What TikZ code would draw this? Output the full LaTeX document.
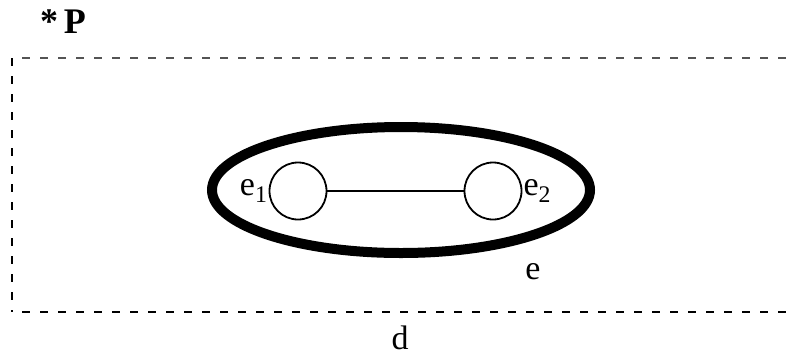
\documentclass[tikz,border=0pt]{standalone}
\usepackage{fontspec}
\setmainfont{Liberation Serif}
\usetikzlibrary{positioning,shapes.geometric}
\definecolor{dashgrey}{rgb}{0.33,0.33,0.33}
\tikzset{
  marco/.style={
    dash pattern=on 8pt off 10pt,
    line width=2pt
  },
  bolsa/.style={
    ellipse,
    draw,
    line width=10pt,
    minimum width=378pt,
    minimum height=126pt
  },
  vertice/.style={
    circle,
    draw,
    line width=1.8pt,
    minimum size=57pt,
    inner sep=0pt
  },
  etiqueta/.style={
    inner sep=1pt,
    font=\fontsize{34}{38}\selectfont
  }
}
\begin{document}
\begin{tikzpicture}[x=1pt,y=-1pt,node distance=4pt]
\useasboundingbox (0,0) rectangle (795,360);
\node[etiqueta,font=\fontsize{36}{40}\selectfont\bfseries] (titulo) at (63,22) {*\,P};
% marco abierto por la derecha
\coordinate (sup-izq) at (12,58);
\coordinate (sup-der) at (795,58);
\coordinate (inf-izq) at (12,312);
\coordinate (inf-der) at (795,312);
\draw[marco,dashgrey] ([xshift=10pt]sup-izq) -- (sup-der);
\draw[marco] (sup-izq) -- (inf-izq);
\draw[marco] ([xshift=10pt]inf-izq) -- (inf-der);
% hiperarista
\node[bolsa] (bolsa) at (401,190) {};
\node[vertice] (v1) at (298,191) {};
\node[vertice] (v2) at (493,191) {};
\draw[line width=1.8pt] (v1) -- (v2);
\node[etiqueta,left=0pt of v1] (e1) {e\textsubscript{1}};
\node[etiqueta,right=0pt of v2] (e2) {e\textsubscript{2}};
\node[etiqueta] (e) at (533,272) {e};
\node[etiqueta] (d) at (400,338) {d};
\end{tikzpicture}
\end{document}
